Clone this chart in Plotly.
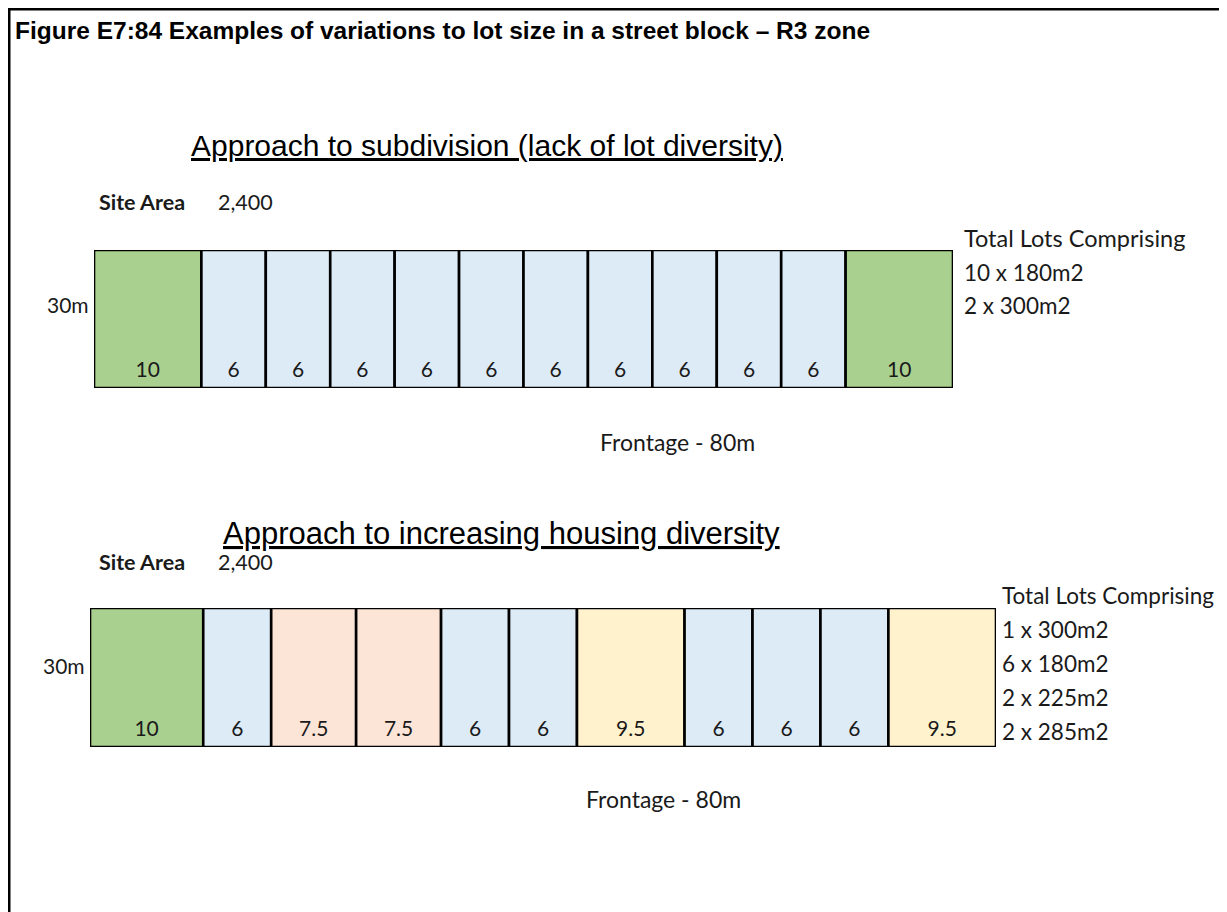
import numpy as np
import plotly.graph_objects as go

W, H = 1227, 912
OFF = 8  # page body margin

# ---- data ----
depth_m = 30
frontage_m = 80
site_area = "2,400"
row1_widths = [10, 6, 6, 6, 6, 6, 6, 6, 6, 6, 6, 10]
row2_widths = [10, 6, 7.5, 7.5, 6, 6, 9.5, 6, 6, 6, 9.5]
row1_summary = ["10 x 180m2", "2 x 300m2"]
row2_summary = ["1 x 300m2", "6 x 180m2", "2 x 225m2", "2 x 285m2"]
color_by_width = {10: "#a9d08e", 6: "#ddebf7", 7.5: "#fce4d6", 9.5: "#fff2cc"}

title = "Figure E7:84 Examples of variations to lot size in a street block – R3 zone"
sub1 = "Approach to subdivision (lack of lot diversity)"
sub2 = "Approach to increasing housing diversity"

CAL = "Lato, 'Open Sans', sans-serif"
ARI = "'Liberation Sans', Arial, sans-serif"
TXT = "#1a1a1a"


def px(x):
    return (x - OFF) / W


def py(y):
    return 1 - (y - OFF) / H


fig = go.Figure()

rows = [
    dict(widths=row1_widths, xa="x", ya="y", box=(94, 953, 250, 388)),
    dict(widths=row2_widths, xa="x2", ya="y2", box=(90, 996, 608, 747)),
]

for r in rows:
    w = np.array(r["widths"], dtype=float)
    starts = np.concatenate([[0], np.cumsum(w)[:-1]])
    centers = starts + w / 2
    fig.add_trace(go.Bar(
        orientation="h", x=w, base=starts, y=[depth_m / 2] * len(w), width=depth_m,
        marker=dict(color=[color_by_width[v] for v in r["widths"]],
                    line=dict(color="black", width=2.6)),
        xaxis=r["xa"], yaxis=r["ya"], hoverinfo="skip", showlegend=False,
    ))
    fig.add_trace(go.Scatter(
        x=centers, y=[depth_m * 0.12] * len(w), mode="text",
        text=[f"{v:g}" for v in r["widths"]],
        textfont=dict(family=CAL, size=21, color=TXT),
        xaxis=r["xa"], yaxis=r["ya"], hoverinfo="skip", showlegend=False,
    ))

layout_axes = {}
for i, r in enumerate(rows):
    x0, x1, y0, y1 = r["box"]
    sfx = "" if i == 0 else str(i + 1)
    layout_axes["xaxis" + sfx] = dict(domain=[px(x0), px(x1)], range=[0, frontage_m],
                                      visible=False, fixedrange=True,
                                      anchor="y" + sfx)
    layout_axes["yaxis" + sfx] = dict(domain=[py(y1), py(y0)], range=[0, depth_m],
                                      visible=False, fixedrange=True,
                                      anchor="x" + sfx)

fig.update_layout(
    width=W, height=H, margin=dict(l=0, r=0, t=0, b=0),
    paper_bgcolor="white", plot_bgcolor="rgba(0,0,0,0)",
    barmode="overlay", showlegend=False,
    **layout_axes,
)

ann = []


def add(text, x, y, size, family=CAL, xanchor="left", color=TXT):
    ann.append(dict(text=text, x=px(x), y=py(y), xref="paper", yref="paper",
                    xanchor=xanchor, yanchor="middle", showarrow=False,
                    font=dict(family=family, size=size, color=color)))


add(f"<b>{title}</b>", 13, 30, 24.5, family=ARI, color="black")
add(f"<u>{sub1}</u>", 487, 145, 30, family=ARI, xanchor="center", color="black")
add(f"<u>{sub2}</u>", 501, 533, 31, family=ARI, xanchor="center", color="black")

for y_site, y_mid, x_box, x_tot, y_tot, summ, y_front, x_front, tsize in [
    (202, 304, 94, 962, 238, row1_summary, 442, 677, 23.5),
    (562, 665, 90, 1000, 595, row2_summary, 799, 663, 22.5),
]:
    add("<b>Site Area</b>", 97, y_site, 21.5)
    add(site_area, 216, y_site, 21.5)
    add(f"{depth_m}m", x_box - 3, y_mid, 21, xanchor="right")
    add("Total Lots Comprising", x_tot, y_tot, tsize)
    for k, s in enumerate(summ):
        add(s, x_tot, y_tot + 34 * (k + 1), 22.5)
    add(f"Frontage - {frontage_m}m", x_front, y_front, 23, xanchor="center")

fig.update_layout(annotations=ann)

fig.add_shape(type="path", xref="paper", yref="paper",
              path=f"M {px(9)},{py(930)} L {px(9)},{py(9)} L {px(1240)},{py(9)}",
              line=dict(color="black", width=3))

fig.write_html("out.html")
